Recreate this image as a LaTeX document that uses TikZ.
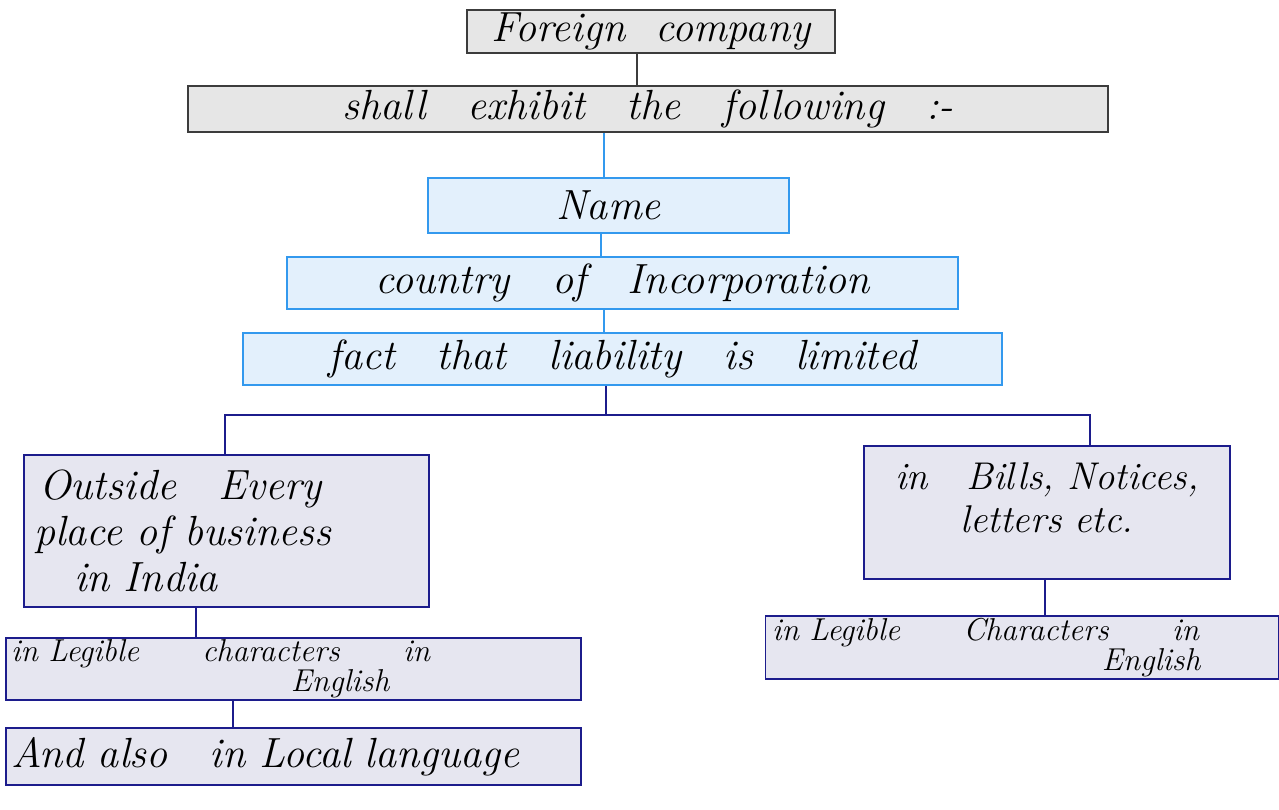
\documentclass[tikz,border=0pt]{standalone}
\usepackage{fontspec}
\definecolor{penblack}{HTML}{3C3C3C}
\definecolor{fillgray}{HTML}{E6E6E6}
\definecolor{penblue}{HTML}{3399EE}
\definecolor{fillblue}{HTML}{E3F0FC}
\definecolor{pennavy}{HTML}{1C1C8C}
\definecolor{filllav}{HTML}{E6E6F0}
\begin{document}
\begin{tikzpicture}[x=0.02cm, y=-0.02cm,
    every node/.style={font=\fontsize{24}{26}\selectfont\itshape, inner sep=1pt},
    small/.style={font=\fontsize{18}{16}\selectfont\itshape},
    graybox/.style={draw=penblack, fill=fillgray, line width=0.9pt},
    bluebox/.style={draw=penblue, fill=fillblue, line width=0.9pt},
    navybox/.style={draw=pennavy, fill=filllav, line width=0.9pt},
    link/.style={line width=0.8pt}]
    \useasboundingbox (0,0) rectangle (1279,810);
    % top of the chart
    \node[graybox, minimum width=7.36cm, minimum height=0.86cm] (foreign) at (651,31.5) {Foreign\ \ company};
    \node[graybox, minimum width=18.4cm, minimum height=0.92cm] (exhibit) at (648,109) {shall\quad exhibit\quad the\quad following\quad :-};
    \node[bluebox, minimum width=7.22cm, minimum height=1.1cm] (name) at (608.5,205.5) {Name};
    \node[bluebox, minimum width=13.42cm, minimum height=1.04cm] (country) at (622.5,283) {country\quad of\quad Incorporation};
    \node[bluebox, minimum width=15.18cm, minimum height=1.04cm] (fact) at (622.5,359) {fact\quad that\quad liability\quad is\quad limited};
    % two branches
    \node[navybox, minimum width=8.1cm, minimum height=3.04cm, text width=7.7cm, align=left] (outside) at (226.5,531)
        {\hspace*{0.1cm}Outside\quad Every\\place of business\\\hspace*{0.8cm}in India};
    \node[navybox, small, minimum width=11.5cm, minimum height=1.16cm, text width=11.3cm, align=left] (legleft) at (293.5,669)
        {in Legible\qquad characters\qquad in\\\hspace*{5.6cm}English};
    \node[navybox, minimum width=11.5cm, minimum height=1.14cm, text width=11.3cm, align=left] (local) at (293.5,756.5)
        {And also\quad in Local language};
    \node[navybox, font=\fontsize{22}{24}\selectfont\itshape, minimum width=7.32cm, minimum height=2.66cm, text width=7cm, align=center] (bills) at (1047,512.5)
        {in\quad Bills, Notices,\\letters etc.\\[-7pt]\mbox{}};
    \node[navybox, small, minimum width=10.26cm, minimum height=1.26cm, text width=10cm, align=left] (legright) at (1022,647.5)
        {in Legible\qquad Characters\qquad in\\\hspace*{6.6cm}English};
    % connectors
    \coordinate (xa) at (637,0);
    \coordinate (xb) at (604,0);
    \coordinate (xc) at (601,0);
    \coordinate (xd) at (606,0);
    \coordinate (barL) at (225,415);
    \coordinate (barR) at (1090,415);
    \coordinate (xe) at (196,0);
    \coordinate (xf) at (233,0);
    \coordinate (xg) at (1045,0);
    \draw[link, penblack] (xa |- foreign.south) -- (xa |- exhibit.north);
    \draw[link, penblue] (xb |- exhibit.south) -- (xb |- name.north);
    \draw[link, penblue] (xc |- name.south) -- (xc |- country.north);
    \draw[link, penblue] (xb |- country.south) -- (xb |- fact.north);
    \draw[link, pennavy] (xd |- fact.south) -- (xd |- barL);
    \draw[link, pennavy] (barL |- outside.north) -- (barL) -- (barR) -- (barR |- bills.north);
    \draw[link, pennavy] (xe |- outside.south) -- (xe |- legleft.north);
    \draw[link, pennavy] (xf |- legleft.south) -- (xf |- local.north);
    \draw[link, pennavy] (xg |- bills.south) -- (xg |- legright.north);
\end{tikzpicture}
\end{document}
